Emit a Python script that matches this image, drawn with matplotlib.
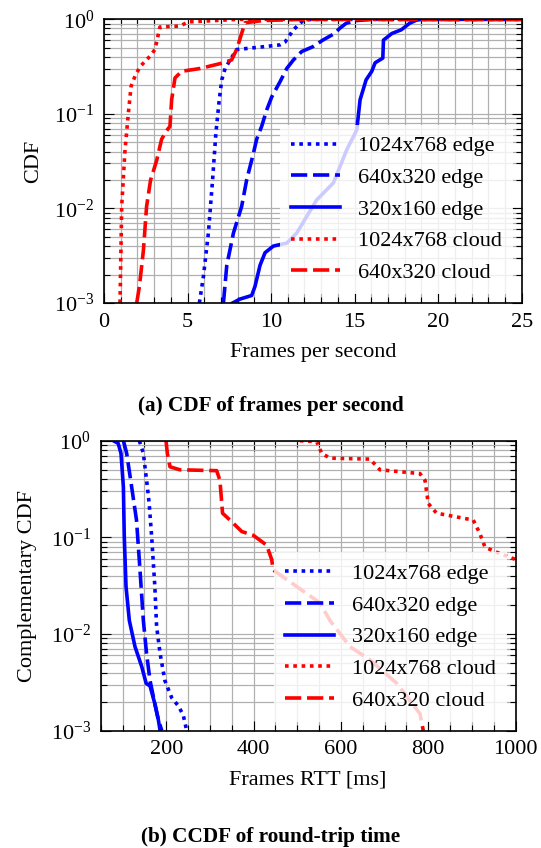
import numpy as np
import matplotlib.pyplot as plt
from matplotlib.ticker import MultipleLocator, LogLocator, NullFormatter

plt.rcParams['font.family'] = ['Liberation Serif', 'DejaVu Serif']
plt.rcParams['mathtext.fontset'] = 'stix'

labels = ["1024x768 edge", "640x320 edge", "320x160 edge", "1024x768 cloud", "640x320 cloud"]

# (a) CDF of frames per second: x = fps, y = CDF
fps_1024_edge = [5.71, 5.95, 6.25, 6.5, 6.7, 6.9, 7.05, 7.25, 7.55, 7.94, 9.54, 10.54, 10.84, 11.34, 11.94, 12.5, 25]
cdf_1024_edge = [1e-3, 0.0019, 0.0055, 0.020, 0.063, 0.141, 0.229, 0.302, 0.372, 0.479, 0.513, 0.537, 0.575, 0.776, 0.98, 1.0, 1.0]
fps_640_edge = [7.15, 7.35, 7.75, 8.24, 8.54, 8.94, 9.14, 9.44, 9.74, 10.04, 10.54, 10.94, 11.34, 11.84, 12.5, 13.1, 13.8, 14.1, 14.5, 15.1, 16.0, 25]
cdf_640_edge = [1e-3, 0.0025, 0.0055, 0.0105, 0.020, 0.038, 0.054, 0.074, 0.110, 0.151, 0.219, 0.302, 0.372, 0.457, 0.513, 0.603, 0.708, 0.80, 0.91, 0.97, 1.0, 1.0]
fps_320_edge = [7.7, 8.14, 8.84, 9.04, 9.34, 9.64, 10.14, 10.94, 11.54, 12.73, 13.73, 14.53, 15.13, 15.33, 15.69, 16.03, 16.23, 16.69, 16.73, 17.23, 17.8, 18.3, 18.7, 19.0, 25]
cdf_320_edge = [1e-3, 0.0011, 0.0012, 0.0015, 0.0025, 0.0034, 0.0040, 0.0043, 0.0055, 0.0123, 0.0186, 0.0417, 0.0676, 0.141, 0.229, 0.282, 0.347, 0.389, 0.603, 0.708, 0.776, 0.91, 0.98, 1.0, 1.0]
fps_1024_cloud = [0.96, 1.06, 1.26, 1.46, 1.62, 1.86, 2.16, 2.75, 3.05, 3.35, 4.55, 5.05, 7.1, 8.0, 25]
cdf_1024_cloud = [1e-3, 0.0105, 0.0417, 0.102, 0.195, 0.251, 0.316, 0.407, 0.479, 0.83, 0.85, 0.94, 0.98, 1.0, 1.0]
fps_640_cloud = [1.96, 2.12, 2.36, 2.55, 2.79, 3.15, 3.45, 3.71, 3.95, 4.05, 4.25, 4.65, 5.75, 7.15, 7.64, 7.94, 8.24, 8.44, 9.5, 11.9, 25]
cdf_640_cloud = [1e-3, 0.0015, 0.0036, 0.0105, 0.020, 0.032, 0.054, 0.065, 0.074, 0.141, 0.240, 0.282, 0.302, 0.347, 0.372, 0.479, 0.708, 0.92, 0.97, 1.0, 1.0]

# (b) CCDF of round-trip time: x = RTT [ms], y = CCDF
rtt_1024_edge = [138.5, 147.7, 157, 161, 166.7, 174, 178, 186, 197, 212.5, 228, 239, 247]
ccdf_1024_edge = [1.0, 0.74, 0.33, 0.224, 0.102, 0.031, 0.012, 0.0063, 0.0033, 0.0022, 0.0018, 0.00145, 1e-3]
rtt_640_edge = [102, 109.5, 121, 132, 140, 147.7, 155, 163, 174, 182, 190]
ccdf_640_edge = [1.0, 0.74, 0.33, 0.151, 0.046, 0.0138, 0.0063, 0.0033, 0.0019, 0.0013, 1e-3]
rtt_320_edge = [79, 90, 96.5, 102, 104, 108, 115.6, 128.6, 144, 154, 163, 174, 182, 186]
ccdf_320_edge = [1.0, 0.94, 0.74, 0.33, 0.102, 0.031, 0.0138, 0.0074, 0.0046, 0.0031, 0.0029, 0.0019, 0.0013, 1e-3]
rtt_1024_cloud = [506, 544.5, 556, 575, 666.5, 689.5, 781, 792.5, 800, 819, 903, 918, 930, 964, 1000]
ccdf_1024_cloud = [1.0, 0.98, 0.74, 0.66, 0.645, 0.50, 0.457, 0.389, 0.224, 0.178, 0.151, 0.110, 0.079, 0.068, 0.059]
rtt_640_cloud = [199.6, 202.6, 208.7, 231.6, 315.5, 323, 329, 346, 373, 399.5, 430, 441.5, 445, 498.7, 552, 575, 620.8, 666.5, 727.6, 781, 788.6]
ccdf_640_cloud = [1.0, 0.74, 0.537, 0.50, 0.49, 0.389, 0.178, 0.151, 0.115, 0.105, 0.083, 0.059, 0.046, 0.031, 0.021, 0.0138, 0.0074, 0.0054, 0.0031, 0.0015, 1e-3]

blue = "#0000ff"
red = "#ff0000"
styles = [
    dict(color=blue, linestyle=(0, (1, 1.3))),
    dict(color=blue, linestyle=(0, (4.5, 1.6))),
    dict(color=blue, linestyle="-"),
    dict(color=red, linestyle=(0, (1, 1.3))),
    dict(color=red, linestyle=(0, (4.5, 1.6))),
]

fig = plt.figure(figsize=(5.41, 8.48), dpi=100)
ax1 = fig.add_axes([0.1922, 0.6427, 0.772, 0.3345])
ax2 = fig.add_axes([0.1861, 0.1383, 0.767, 0.342])

top_series = [(fps_1024_edge, cdf_1024_edge), (fps_640_edge, cdf_640_edge), (fps_320_edge, cdf_320_edge),
              (fps_1024_cloud, cdf_1024_cloud), (fps_640_cloud, cdf_640_cloud)]
bot_series = [(rtt_1024_edge, ccdf_1024_edge), (rtt_640_edge, ccdf_640_edge), (rtt_320_edge, ccdf_320_edge),
              (rtt_1024_cloud, ccdf_1024_cloud), (rtt_640_cloud, ccdf_640_cloud)]

for ax, series in [(ax1, top_series), (ax2, bot_series)]:
    for (x, y), lab, st in zip(series, labels, styles):
        ax.plot(x, y, label=lab, linewidth=2.6, **st)
    ax.set_yscale("log")
    ax.set_ylim(1e-3, 1)
    ax.yaxis.set_major_locator(LogLocator(base=10, numticks=10))
    ax.yaxis.set_minor_locator(LogLocator(base=10, subs=np.arange(2, 10), numticks=10))
    ax.yaxis.set_minor_formatter(NullFormatter())
    ax.grid(True, which="both", color="#b0b0b0", linewidth=0.9)
    ax.set_axisbelow(True)
    ax.tick_params(which="both", direction="in", top=True, right=True, labelsize=16, width=0.8, pad=7)
    ax.tick_params(which="major", length=7)
    ax.tick_params(which="minor", length=4)
    for sp in ax.spines.values():
        sp.set_linewidth(1.2)
    ax.legend(loc="lower right", fontsize=16, handlelength=2.2, framealpha=0.8,
              edgecolor="none", fancybox=False, borderaxespad=0.4, labelspacing=0.5,
              handletextpad=0.8, borderpad=0.5)

ax1.set_xlim(0, 25)
ax1.xaxis.set_major_locator(MultipleLocator(5))
ax1.xaxis.set_minor_locator(MultipleLocator(1))
ax1.set_xlabel("Frames per second", fontsize=16, labelpad=8)
ax1.set_ylabel("CDF", fontsize=16, labelpad=8)

ax2.set_xlim(50, 1000)
ax2.xaxis.set_major_locator(MultipleLocator(200))
ax2.xaxis.set_minor_locator(MultipleLocator(50))
ax2.set_xlabel("Frames RTT [ms]", fontsize=16, labelpad=8)
ax2.set_ylabel("Complementary CDF", fontsize=16, labelpad=10)

fig.text(0.5, 1 - 406 / 848, "(a) CDF of frames per second", ha="center", va="center",
         fontsize=15.3, fontweight="bold")
fig.text(0.5, 1 - 837 / 848, "(b) CCDF of round-trip time", ha="center", va="center",
         fontsize=15.3, fontweight="bold")

fig.savefig("out.png", dpi=100)
